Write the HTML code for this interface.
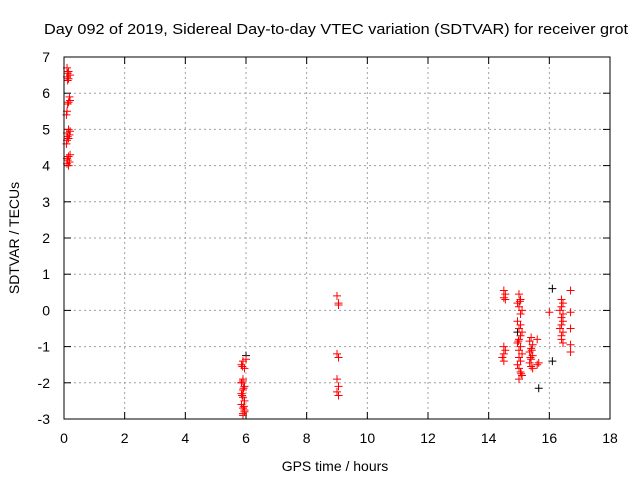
<!DOCTYPE html>
<html><head><meta charset="utf-8"><style>
body{margin:0;background:#fff}
text{font-family:"Liberation Sans",sans-serif;font-size:14px;fill:#000}
</style></head><body>
<svg id="c" width="640" height="480">
<text x="44" y="34" textLength="584" lengthAdjust="spacingAndGlyphs" style="font-size:15px">Day 092 of 2019, Sidereal Day-to-day VTEC variation (SDTVAR) for receiver grot</text>
<text x="335" y="471" text-anchor="middle">GPS time / hours</text>
<text transform="translate(19,238) rotate(-90)" text-anchor="middle">SDTVAR / TECUs</text>
<g id="grid"></g><g id="ticks"></g><g id="pts"></g>
<rect x="64" y="57" width="546" height="362" fill="none" stroke="#000"/>
</svg>
<script>
const xTicks=[0,2,4,6,8,10,12,14,16,18];
const yTicks=[-3,-2,-1,0,1,2,3,4,5,6,7];
const redX=[0.1,0.15,0.12,0.2,0.1,0.15,0.12,0.18,0.2,0.15,0.12,0.1,0.08,0.15,0.2,0.1,0.18,0.12,0.15,0.1,0.08,0.2,0.15,0.1,0.12,0.18,0.1,0.15,
5.9,5.85,5.95,5.9,5.85,5.95,5.9,5.85,5.9,5.95,5.85,5.9,5.95,5.9,5.85,5.9,5.95,5.9,6.0,5.88,5.92,5.87,5.93,
9.0,9.05,9.05,9.0,9.05,9.0,9.05,9.0,9.05,
14.5,14.55,14.5,14.55,14.5,14.55,14.5,14.45,14.5,
15.0,15.05,14.95,15.0,15.1,15.05,14.95,15.0,15.1,15.05,15.0,14.95,15.05,15.0,15.1,15.0,15.05,14.95,15.0,15.05,15.1,15.0,15.05,15.03,14.98,15.07,
15.4,15.35,15.45,15.4,15.35,15.45,15.4,15.35,15.4,15.45,15.6,15.6,15.65,15.42,15.38,
16.0,16.4,16.45,16.4,16.35,16.45,16.4,16.45,16.4,16.35,16.45,16.4,16.4,16.45,
16.7,16.7,16.7,16.7,16.7];
const redY=[6.7,6.6,6.55,6.5,6.45,6.4,6.35,5.9,5.8,5.75,5.7,5.5,5.4,5.0,4.95,4.9,4.85,4.8,4.75,4.7,4.6,4.3,4.25,4.2,4.15,4.1,4.05,4.0,
-1.4,-1.5,-1.6,-1.9,-2.0,-2.1,-2.2,-2.3,-2.4,-2.5,-2.6,-2.7,-2.8,-2.85,-2.0,-1.95,-2.75,-2.9,-1.35,-1.55,-2.15,-2.35,-2.65,
0.4,0.2,0.15,-1.2,-1.3,-1.9,-2.1,-2.25,-2.35,
0.55,0.45,0.35,0.3,-1.0,-1.1,-1.2,-1.3,-1.4,
0.45,0.3,0.2,0.1,0.0,-0.1,-0.3,-0.5,-0.6,-0.7,-0.8,-0.9,-1.0,-1.1,-1.2,-1.3,-1.4,-1.5,-1.6,-1.7,-1.8,-1.9,-0.4,0.25,-0.85,-1.75,
-0.75,-0.85,-0.95,-1.05,-1.15,-1.25,-1.35,-1.45,-1.55,-1.6,-0.8,-1.5,-1.45,-1.1,-1.3,
-0.05,0.3,0.2,0.1,0.0,-0.1,-0.2,-0.3,-0.4,-0.5,-0.6,-0.7,-0.8,-0.9,
0.55,-0.05,-0.5,-0.95,-1.15];
const blackX=[16.1,16.1,15.65,14.95,6.0];
const blackY=[0.6,-1.4,-2.15,-0.6,-1.25];
const NS='http://www.w3.org/2000/svg';
const xs=v=>64+(v-0)/18*546, ys=v=>419-(v+3)/10*362;
function mk(t,a,p){const e=document.createElementNS(NS,t);for(const k in a)e.setAttribute(k,a[k]);p.appendChild(e);return e;}
const G=document.getElementById('grid'),T=document.getElementById('ticks'),P=document.getElementById('pts');
xTicks.forEach(v=>{const x=xs(v);
 if(v>0&&v<18){const l=mk('line',{x1:x,x2:x,y1:57,y2:419,stroke:'#a0a0a0','stroke-dasharray':'2,3'},G);
 
 }
 mk('line',{x1:x,x2:x,y1:419,y2:412,stroke:'#000'},T);mk('line',{x1:x,x2:x,y1:57,y2:64,stroke:'#000'},T);
 const t=mk('text',{x:x,y:443,'text-anchor':'middle'},T);t.textContent=v;
 
 });
yTicks.forEach(v=>{const y=ys(v);
 if(v>-3&&v<7){const l=mk('line',{x1:64,x2:610,y1:y,y2:y,stroke:'#a0a0a0','stroke-dasharray':'2,3'},G);
 
 }
 mk('line',{x1:64,x2:71,y1:y,y2:y,stroke:'#000'},T);mk('line',{x1:610,x2:603,y1:y,y2:y,stroke:'#000'},T);
 const t=mk('text',{x:50,y:y+5,'text-anchor':'end'},T);t.textContent=v;
 
 });
function plus(x,y,c,name){const g=mk('path',{d:`M${x-4} ${y}h8M${x} ${y-4}v8`,stroke:c,'stroke-width':1,fill:'none'},P);
 
 }
blackX.forEach((v,i)=>plus(xs(v),ys(blackY[i]),'#000','black-point'));
redX.forEach((v,i)=>plus(xs(v),ys(redY[i]),'#f00','red-point'));
</script>
</body></html>
